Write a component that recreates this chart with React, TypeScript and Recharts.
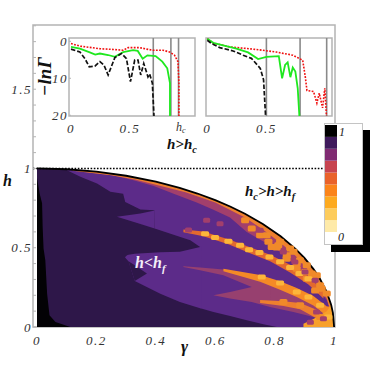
import { ComposedChart, LineChart, BarChart, Bar, Line, Area, Scatter, XAxis, YAxis, ReferenceLine, ReferenceArea, CartesianGrid } from 'recharts'
import type { ReactNode } from 'react'

type Band = [number, number, number]
type Pt = [number, number]

// main map: each layer is [gamma, low h, high h]
const arcLine: Pt[] = [[0, 1], [0.1, 0.995], [0.2, 0.98], [0.3, 0.954], [0.4, 0.917], [0.48, 0.877], [0.54, 0.842], [0.6, 0.8], [0.65, 0.76], [0.7, 0.714], [0.76, 0.65], [0.82, 0.572], [0.87, 0.493], [0.9, 0.436], [0.93, 0.367], [0.95, 0.312], [0.975, 0.222], [0.99, 0.141], [0.996, 0.089], [1, 0]]
const darkBase: Band[] = arcLine.map(([g, h]) => [g, 0, h])
const blackEdge: Band[] = [[0, 0, 0.94], [0.009, 0, 0.84], [0.017, 0, 0.78], [0.019, 0, 0.63], [0.022, 0, 0.495], [0.028, 0, 0.42], [0.034, 0, 0.21], [0.042, 0, 0.074], [0.062, 0, 0.032], [0.112, 0, 0]]
const upperLobe: Band[] = [[0.101, 0.989, 0.995], [0.146, 0.947, 0.989], [0.202, 0.905, 0.979], [0.247, 0.853, 0.969], [0.29, 0.84, 0.957], [0.297, 0.789, 0.955], [0.348, 0.741, 0.937], [0.395, 0.737, 0.919], [0.396, 0.621, 0.918], [0.48, 0.569, 0.877], [0.516, 0.547, 0.856], [0.549, 0.505, 0.836], [0.55, 0.118, 0.835], [0.594, 0.095, 0.804], [0.65, 0.07, 0.76], [0.706, 0.042, 0.708], [0.762, 0.018, 0.648], [0.807, 0, 0.59], [0.85, 0, 0.527], [0.9, 0, 0.436], [0.95, 0, 0.312], [0.98, 0, 0.199], [0.99, 0, 0.141], [1, 0, 0]]
const spikeGap: Band[] = [[0.269, 0.695, 0.695], [0.348, 0.649, 0.716], [0.396, 0.621, 0.735]]
const lowerLobe: Band[] = [[0.296, 0.44, 0.44], [0.303, 0.425, 0.453], [0.308, 0.415, 0.456], [0.329, 0.29, 0.462], [0.415, 0.21, 0.472], [0.481, 0.158, 0.474], [0.549, 0.118, 0.505], [0.553, 0.116, 0.506]]
const lowerNotch: Band[] = [[0.308, 0.415, 0.415], [0.329, 0.29, 0.389], [0.37, 0.337, 0.337]]
const arcPink: Band[] = [[0.13, 0.985, 0.991], [0.258, 0.955, 0.966], [0.325, 0.925, 0.946], [0.393, 0.89, 0.92], [0.46, 0.84, 0.888], [0.5376, 0.785, 0.843], [0.5937, 0.74, 0.805], [0.6498, 0.69, 0.76], [0.706, 0.6, 0.708], [0.762, 0.54, 0.648], [0.8182, 0.475, 0.572], [0.8743, 0.379, 0.485], [0.9304, 0.27, 0.366], [0.9753, 0.17, 0.221], [0.99, 0.09, 0.141], [1, 0, 0]]
const arcOrange: Band[] = [[0.12, 0.986, 0.992], [0.25, 0.958, 0.968], [0.33, 0.93, 0.944], [0.4, 0.897, 0.916], [0.5, 0.85, 0.866], [0.6, 0.785, 0.8], [0.7, 0.69, 0.714], [0.76, 0.615, 0.65], [0.82, 0.53, 0.572], [0.87, 0.45, 0.493], [0.93, 0.325, 0.367], [0.975, 0.18, 0.222], [0.99, 0.09, 0.141], [1, 0, 0]]
const streakOne: Band[] = [[0.4927, 0.598, 0.615], [0.5601, 0.573, 0.602], [0.605, 0.546, 0.576], [0.6442, 0.522, 0.554], [0.7172, 0.466, 0.503], [0.7845, 0.415, 0.456], [0.8519, 0.344, 0.392], [0.9136, 0.268, 0.318], [0.9641, 0.18, 0.221]]
const pinkMain: Band[] = [[0.4927, 0.379, 0.383], [0.5488, 0.358, 0.375], [0.6274, 0.326, 0.362], [0.7228, 0.2527, 0.326], [0.7845, 0.1265, 0.305], [0.8631, 0.095, 0.253], [0.9304, 0.063, 0.19], [0.985, 0.03, 0.12]]
const pinkLeaf: Band[] = [[0.5937, 0.2, 0.2], [0.6498, 0.179, 0.221], [0.7228, 0.158, 0.253], [0.7845, 0.1265, 0.253]]
const orangeMain: Band[] = [[0.6274, 0.352, 0.368], [0.7509, 0.285, 0.328], [0.8182, 0.235, 0.288], [0.8743, 0.19, 0.246], [0.9304, 0.135, 0.195], [0.9753, 0.07, 0.13], [0.99, 0.05, 0.13]]
const orangeLow: Band[] = [[0.7509, 0.152, 0.17], [0.8294, 0.133, 0.162], [0.8855, 0.112, 0.152], [0.9529, 0.042, 0.1]]
const orangeFoot: Band[] = [[0.8968, 0, 0.021], [0.9304, 0, 0.05], [0.9753, 0, 0.1], [0.99, 0, 0.14], [1, 0, 0]]

const beadsBright: Pt[] = [[0.5657, 0.589], [0.5993, 0.564], [0.6442, 0.541], [0.6835, 0.516], [0.7138, 0.488], [0.7486, 0.47], [0.7823, 0.442], [0.8182, 0.411], [0.8519, 0.375], [0.8833, 0.337], [0.9136, 0.305], [0.7565, 0.316], [0.8182, 0.278], [0.8743, 0.221], [0.9136, 0.19], [0.9529, 0.137], [0.981, 0.063]]
const beadsOrange: Pt[] = [[0.7004, 0.674], [0.7228, 0.621], [0.7509, 0.579], [0.7789, 0.537], [0.807, 0.501], [0.8406, 0.453], [0.8743, 0.4], [0.9024, 0.347], [0.9304, 0.305], [0.9585, 0.242], [0.8182, 0.537], [0.8631, 0.474], [0.908, 0.39], [0.9417, 0.326], [0.9753, 0.211], [0.8294, 0.158], [0.8855, 0.137], [0.9529, 0.063], [0.773, 0.579], [0.812, 0.516], [0.84, 0.431], [0.874, 0.368], [0.908, 0.305], [0.936, 0.231], [0.79, 0.505], [0.852, 0.495], [0.885, 0.421], [0.925, 0.337], [0.953, 0.263]]
const beadsPink: Pt[] = [[0.751, 0.61], [0.829, 0.473], [0.868, 0.41], [0.902, 0.347], [0.936, 0.295], [0.941, 0.095], [0.964, 0.052], [0.92, 0.03], [0.571, 0.674], [0.616, 0.652], [0.51, 0.612]]

const gammaTicks = [0, 0.05, 0.1, 0.15, 0.2, 0.25, 0.3, 0.35, 0.4, 0.45, 0.5, 0.55, 0.6, 0.65, 0.7, 0.75, 0.8, 0.85, 0.9, 0.95, 1]
const gammaLabels = [0, 0.2, 0.4, 0.6, 0.8, 1]
const hTicks = [0, 0.1, 0.2, 0.3, 0.4, 0.5, 0.6, 0.7, 0.8, 0.9, 1, 1.1, 1.2, 1.3, 1.4, 1.5, 1.6, 1.7, 1.8, 1.9]
const hLabels = [0, 0.5, 1, 1.5]
const gridGamma = [0.02, 0.06, 0.1, 0.14, 0.18, 0.22, 0.26, 0.3, 0.34, 0.38, 0.42, 0.46, 0.5, 0.54, 0.58, 0.62, 0.66, 0.7, 0.74, 0.78, 0.82, 0.86, 0.9, 0.94, 0.98]
const gridH = [0.04, 0.11, 0.18, 0.25, 0.32, 0.39, 0.46, 0.53, 0.6, 0.67, 0.74, 0.81, 0.88, 0.95]

// inset curves: [h, -ln gamma]
const leftRed: Pt[] = [[0, 0.6], [0.076, 1.3], [0.246, 2], [0.359, 2.2], [0.444, 2.4], [0.486, 1.7], [0.585, 1.7], [0.641, 2.1], [0.698, 2.4], [0.782, 2.4], [0.839, 2.9], [0.881, 3.75], [0.91, 5.5], [0.918, 11.3], [0.918, 20.2]]
const leftGreen: Pt[] = [[0, 1.5], [0.076, 2], [0.16, 3], [0.206, 3.6], [0.246, 3.3], [0.316, 3.7], [0.373, 4.2], [0.444, 2.9], [0.528, 2.4], [0.568, 2.6], [0.61, 4.7], [0.65, 3.8], [0.72, 4], [0.777, 5.5], [0.819, 7.3], [0.842, 11.3], [0.842, 20.2]]
const leftBlack: Pt[] = [[0, 2.1], [0.076, 2.9], [0.119, 4.7], [0.155, 6.9], [0.203, 6.7], [0.246, 5.5], [0.28, 6.4], [0.316, 9.1], [0.373, 4.4], [0.43, 3.3], [0.472, 4.7], [0.506, 10.9], [0.542, 5.1], [0.57, 5.1], [0.593, 9.1], [0.619, 6], [0.655, 9.6], [0.669, 8.8], [0.692, 11.3], [0.706, 20.2]]
const rightGreen: Pt[] = [[0, -0.7], [0.05, 0.4], [0.134, 1.1], [0.246, 2], [0.345, 3], [0.43, 4.8], [0.5, 4.2], [0.605, 4], [0.633, 10], [0.658, 6.4], [0.68, 5.7], [0.703, 9.7], [0.723, 7.1], [0.745, 8.2], [0.765, 12.7], [0.779, 20.2]]
const rightBlack: Pt[] = [[0, -0.3], [0.036, 0.6], [0.106, 1.7], [0.218, 2.6], [0.303, 3.75], [0.373, 4.6], [0.448, 7.3], [0.476, 10.4], [0.493, 20.2]]
const rightRed: Pt[] = [[0, -0.7], [0.05, 0.45], [0.19, 1.5], [0.414, 2.2], [0.583, 2.9], [0.723, 3.75], [0.807, 5.1], [0.829, 9.6], [0.843, 13.3], [0.899, 13.6], [0.927, 16.7], [0.947, 14], [0.975, 18], [0.994, 12.7], [1.008, 20.2]]
const leftMarks = [0.7, 0.85, 0.915]
const rightMarks = [0.5, 0.785, 1.01]
const insetXLabels = [0, 0.5]
const leftYTicks = [0, 10, 20]
const rightYTicks = [0, 4.3, 8.6, 13, 17]

const barColors = ['#feeaa8', '#fdcc5c', '#fdaa1f', '#fb841a', '#e9622a', '#c7444f', '#802b72', '#3f1a5c', '#000000']
const barSteps = [1, 1, 1, 1, 1, 1, 1, 1, 1]

const FRAME = '#b4b4b4'
const TICK_FONT = { fontFamily: 'Liberation Serif', fontStyle: 'italic', fontSize: 13, letterSpacing: 1.5, fill: '#333' }

const bandRows = (b: Band[]) => b.map(([gamma, lo, hi]) => ({ gamma, band: [lo, hi] }))
const ptRows = (p: Pt[]) => p.map(([gamma, h]) => ({ gamma, h }))

function Layer({ rows, fill }: { rows: Band[]; fill: string }) {
  return <Area data={bandRows(rows)} dataKey="band" fill={fill} fillOpacity={1} stroke="none" type="linear" dot={false} activeDot={false} isAnimationActive={false} />
}

function Caption({ x, y, size = 15, color = '#111', rotate = 0, children }: { x: number; y: number; size?: number; color?: string; rotate?: number; children: ReactNode }) {
  return (
    <span style={{ position: 'absolute', left: x, top: y, fontFamily: 'Liberation Serif', fontStyle: 'italic', fontWeight: 700, fontSize: size, color, lineHeight: 1, whiteSpace: 'nowrap', transform: rotate ? `rotate(${rotate}deg)` : undefined }}>
      {children}
    </span>
  )
}

const Sub = ({ children }: { children: ReactNode }) => <span style={{ fontSize: '0.68em', position: 'relative', top: 4 }}>{children}</span>

const square = (color: string, w: number, h: number) => (p: any) => <rect x={p.cx - w / 2} y={p.cy - h / 2} width={w} height={h} rx={1.5} fill={color} />

function Inset({ red, green, black, marks, yTicks, yLabels, xMin }: { red: Pt[]; green: Pt[]; black: Pt[]; marks: number[]; yTicks: number[]; yLabels: boolean; xMin: number }) {
  return (
    <LineChart width={150} height={105} margin={{ top: 8, right: 5, bottom: 0, left: 0 }}>
      <XAxis dataKey="gamma" type="number" domain={[xMin, 1.055]} ticks={insetXLabels} height={19} axisLine={false} tickLine={false} tick={TICK_FONT} tickMargin={2} allowDataOverflow interval={0} />
      <YAxis yAxisId={0} type="number" domain={[-0.9, 20.2]} reversed ticks={yTicks} width={19} axisLine={false} tickLine={{ stroke: FRAME }} tickSize={-2} tickMargin={3} tick={yLabels ? TICK_FONT : false} allowDataOverflow interval={0} />
      <ReferenceArea x1={xMin} x2={1.055} y1={-0.9} y2={20.2} fill="none" stroke={FRAME} strokeWidth={1.5} fillOpacity={0} />
      {marks.map(m => <ReferenceLine key={m} x={m} stroke="#8a8a8a" strokeWidth={1.6} />)}
      <Line data={ptRows(red)} dataKey="h" stroke="#f01010" strokeWidth={1.6} strokeDasharray="1.8 1.4" dot={false} isAnimationActive={false} />
      <Line data={ptRows(green)} dataKey="h" stroke="#1fe81f" strokeWidth={1.8} dot={false} isAnimationActive={false} />
      <Line data={ptRows(black)} dataKey="h" stroke="#111" strokeWidth={1.7} strokeDasharray="4.5 2" dot={false} isAnimationActive={false} />
    </LineChart>
  )
}

export default function App() {
  return (
    <div style={{ position: 'absolute', left: 0, top: 0, width: 382, height: 374, overflow: 'hidden', background: '#fff' }}>
      <div style={{ position: 'absolute', left: 0, top: 0 }}>
        <ComposedChart width={382} height={374} margin={{ top: 25, right: 47, bottom: 0, left: 0 }}>
          <XAxis dataKey="gamma" type="number" domain={[-0.0135, 1.003]} ticks={gammaTicks} height={47} allowDataOverflow interval={0} axisLine={false} tickLine={false} tick={TICK_FONT} tickMargin={3} tickFormatter={v => (gammaLabels.includes(v) ? String(v) : '')} />
          <XAxis xAxisId="top" orientation="top" type="number" domain={[-0.0135, 1.003]} ticks={gammaTicks} height={0} allowDataOverflow interval={0} axisLine={false} tickLine={{ stroke: FRAME }} tickSize={-3} tick={false} />
          <YAxis type="number" domain={[0, 1.905]} ticks={hTicks} width={33} allowDataOverflow interval={0} axisLine={false} tickLine={{ stroke: FRAME }} tickSize={-3} tickMargin={4} tick={TICK_FONT} tickFormatter={v => (hLabels.includes(v) ? String(v) : '')} />
          <YAxis yAxisId="right" orientation="right" type="number" domain={[0, 1.905]} ticks={hTicks} width={0} allowDataOverflow interval={0} axisLine={false} tickLine={{ stroke: FRAME }} tickSize={-3} tick={false} />
          <ReferenceArea x1={-0.0135} x2={1.003} y1={0} y2={1.905} fill="none" fillOpacity={0} stroke={FRAME} strokeWidth={1.5} />
          <Layer rows={darkBase} fill="#2e1749" />
          <Layer rows={blackEdge} fill="#030205" />
          <Layer rows={upperLobe} fill="#5c2b89" />
          <Layer rows={spikeGap} fill="#5c2b89" />
          <Layer rows={lowerLobe} fill="#5c2b89" />
          <Layer rows={lowerNotch} fill="#2e1749" />
          <Layer rows={arcPink} fill="#a23f6c" />
          <Layer rows={arcOrange} fill="#ee7f2e" />
          <Layer rows={streakOne} fill="#e2692f" />
          <Layer rows={pinkMain} fill="#97406f" />
          <Layer rows={pinkLeaf} fill="#97406f" />
          <Layer rows={orangeMain} fill="#f58a26" />
          <Layer rows={orangeLow} fill="#ee7f2e" />
          <Layer rows={orangeFoot} fill="#f8a02a" />
          <Scatter data={ptRows(beadsOrange)} dataKey="h" shape={square('#f08a2a', 8, 6)} isAnimationActive={false} />
          <Scatter data={ptRows(beadsBright)} dataKey="h" shape={square('#fdb63a', 8, 5)} isAnimationActive={false} />
          <Scatter data={ptRows(beadsPink)} dataKey="h" shape={square('#a23f6c', 7, 5)} isAnimationActive={false} />
          <Line data={ptRows(arcLine)} dataKey="h" stroke="#000" strokeWidth={1.8} dot={false} isAnimationActive={false} />
          <ReferenceLine y={1} stroke="#000" strokeWidth={1.5} strokeDasharray="1.6 1.6" />
          <CartesianGrid stroke="#ffffff" strokeOpacity={0.05} horizontalValues={gridH} verticalValues={gridGamma} />
        </ComposedChart>
      </div>

      <div style={{ position: 'absolute', left: 50, top: 30 }}>
        <Inset red={leftRed} green={leftGreen} black={leftBlack} marks={leftMarks} yTicks={leftYTicks} yLabels xMin={-0.017} />
      </div>
      <div style={{ position: 'absolute', left: 187, top: 30 }}>
        <Inset red={rightRed} green={rightGreen} black={rightBlack} marks={rightMarks} yTicks={rightYTicks} yLabels={false} xMin={-0.011} />
      </div>

      <div style={{ position: 'absolute', left: 324, top: 123, width: 37, height: 120, background: '#fff', border: '1px solid #c4c4c4', boxShadow: '7px 7px 0 #000' }} />
      <div style={{ position: 'absolute', left: 325, top: 125 }}>
        <BarChart width={12} height={107} data={[{ name: 'levels', ...Object.fromEntries(barSteps.map((v, i) => [`l${i}`, v])) }]} margin={{ top: 0, right: 0, bottom: 0, left: 0 }} barCategoryGap={0}>
          <XAxis dataKey="name" hide />
          <YAxis hide type="number" domain={[0, 9]} />
          {barColors.map((c, i) => <Bar key={c} dataKey={`l${i}`} stackId="bar" fill={c} isAnimationActive={false} />)}
        </BarChart>
      </div>
      <span style={{ position: 'absolute', left: 339, top: 125, fontFamily: 'Liberation Serif', fontStyle: 'italic', fontSize: 12, color: '#222' }}>1</span>
      <span style={{ position: 'absolute', left: 338, top: 230, fontFamily: 'Liberation Serif', fontStyle: 'italic', fontSize: 12, color: '#222' }}>0</span>

      <Caption x={25} y={67} size={19} rotate={-90}>&minus;ln&Gamma;</Caption>
      <Caption x={167} y={137} size={15}>h&gt;h<Sub>c</Sub></Caption>
      <Caption x={245} y={184} size={15}>h<Sub>c</Sub>&gt;h&gt;h<Sub>f</Sub></Caption>
      <Caption x={135} y={255} size={16} color="#f4eef8">h&lt;h<Sub>f</Sub></Caption>
      <Caption x={3} y={173} size={16}>h</Caption>
      <Caption x={181} y={338} size={17}>&gamma;</Caption>
      <span style={{ position: 'absolute', left: 176, top: 120, fontFamily: 'Liberation Serif', fontStyle: 'italic', fontSize: 12, color: '#333' }}>h<span style={{ fontSize: 8, position: 'relative', top: 2 }}>c</span></span>
    </div>
  )
}
